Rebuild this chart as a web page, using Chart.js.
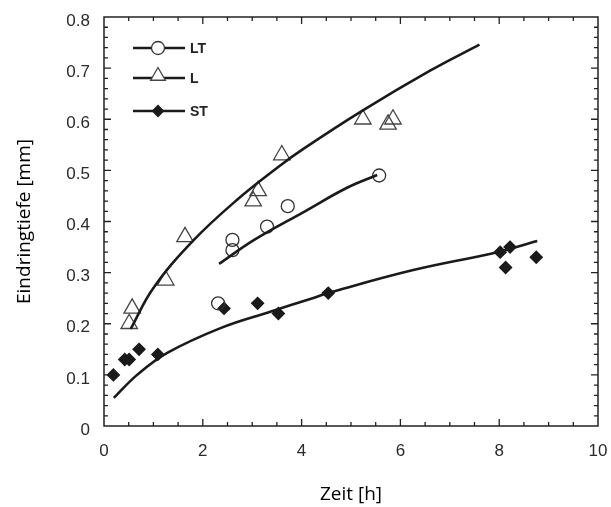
<!DOCTYPE html>
<html>
<head>
<meta charset="utf-8">
<script src="https://cdn.jsdelivr.net/npm/chart.js@4.4.1/dist/chart.umd.min.js"></script>
<style>
  html, body { margin: 0; padding: 0; background: #fff; }
  #wrap { width: 611px; height: 507px; }
</style>
</head>
<body>
<div id="wrap"><canvas id="chart"></canvas></div>
<script>
// Messwerte: Zeit [h] / Eindringtiefe [mm]
const ltZeit = [2.31, 2.60, 2.60, 3.30, 3.72, 5.57];
const ltTiefe = [0.240, 0.364, 0.344, 0.390, 0.430, 0.490];

const lZeit = [0.51, 0.57, 1.25, 1.64, 3.02, 3.12, 3.60, 5.24, 5.75, 5.85];
const lTiefe = [0.200, 0.230, 0.285, 0.370, 0.440, 0.460, 0.530, 0.600, 0.590, 0.600];

const stZeit = [0.19, 0.42, 0.51, 0.71, 1.09, 2.43, 3.11, 3.53, 4.54, 8.02, 8.13, 8.22, 8.75];
const stTiefe = [0.100, 0.130, 0.130, 0.150, 0.140, 0.230, 0.240, 0.220, 0.260, 0.340, 0.310, 0.350, 0.330];

// Ausgleichskurven
const lFitZeit = [0.54, 1.00, 1.80, 2.70, 3.56, 4.05, 5.20, 6.60, 7.60];
const lFitTiefe = [0.190, 0.270, 0.362, 0.443, 0.509, 0.543, 0.615, 0.695, 0.746];

const ltFitZeit = [2.33, 3.04, 4.05, 4.92, 5.53];
const ltFitTiefe = [0.317, 0.364, 0.419, 0.466, 0.491];

const stFitZeit = [0.20, 0.67, 1.28, 2.37, 3.38, 4.19, 4.57, 6.26, 7.96, 8.77];
const stFitTiefe = [0.055, 0.100, 0.143, 0.192, 0.224, 0.249, 0.261, 0.305, 0.340, 0.362];

const legendLabels = ['LT', 'L', 'ST'];

const INK = '#1a1a1a';

function toPoints(xs, ys) {
    return xs.map((x, i) => ({ x: x, y: ys[i] }));
}

const markerStyles = [
    { pointStyle: 'circle', radius: 6.5, fill: 'rgba(0,0,0,0)', stroke: '#333', legendRadius: 6.5 },
    { pointStyle: 'triangle', radius: 9.5, fill: 'rgba(0,0,0,0)', stroke: '#444', legendRadius: 8.5 },
    { pointStyle: 'rectRot', radius: 6, fill: INK, stroke: INK, legendRadius: 5.5 }
];

function scatterSet(xs, ys, style) {
    return {
        type: 'scatter',
        data: toPoints(xs, ys),
        pointStyle: style.pointStyle,
        pointRadius: style.radius,
        pointBackgroundColor: style.fill,
        pointBorderColor: style.stroke,
        pointBorderWidth: 1.3,
        showLine: false
    };
}

function fitSet(xs, ys) {
    return {
        type: 'line',
        data: toPoints(xs, ys),
        borderColor: INK,
        borderWidth: 2.6,
        pointRadius: 0,
        tension: 0.4,
        fill: false
    };
}

// Rahmen, nach innen zeigende Ticks und Legende oben links
const framePlugin = {
    id: 'frame',
    afterDraw(chart) {
        const { ctx, chartArea: a, scales } = chart;
        const xs = scales.x, ys = scales.y;
        ctx.save();
        ctx.strokeStyle = '#222';
        ctx.lineWidth = 1.5;
        ctx.strokeRect(a.left, a.top, a.right - a.left, a.bottom - a.top);

        ctx.lineWidth = 1.3;
        ctx.beginPath();
        for (let i = 1; i < 20; i++) {
            const px = xs.getPixelForValue(i * 0.5);
            const len = i % 4 === 0 ? 7 : 4;
            ctx.moveTo(px, a.bottom); ctx.lineTo(px, a.bottom - len);
            ctx.moveTo(px, a.top); ctx.lineTo(px, a.top + len);
        }
        for (let i = 1; i < 40; i++) {
            const py = ys.getPixelForValue(i * 0.02);
            const len = i % 5 === 0 ? 7 : 4;
            ctx.moveTo(a.left, py); ctx.lineTo(a.left + len, py);
            ctx.moveTo(a.right, py); ctx.lineTo(a.right - len, py);
        }
        ctx.stroke();

        // Legende
        const x0 = a.left + 29, x1 = a.left + 81, mx = a.left + 54;
        const rows = [a.top + 31, a.top + 61, a.top + 94];
        ctx.font = 'bold 14px "Liberation Sans", Arial, sans-serif';
        ctx.textBaseline = 'middle';
        ctx.textAlign = 'left';
        legendLabels.forEach((label, i) => {
            const st = markerStyles[i];
            const y = rows[i];
            ctx.strokeStyle = INK;
            ctx.lineWidth = 2.6;
            ctx.beginPath();
            ctx.moveTo(x0, y); ctx.lineTo(x1, y);
            ctx.stroke();
            ctx.fillStyle = st.pointStyle === 'rectRot' ? INK : '#fff';
            ctx.strokeStyle = st.stroke;
            ctx.lineWidth = 1.3;
            Chart.helpers.drawPoint(ctx, {
                pointStyle: st.pointStyle,
                radius: st.legendRadius,
                rotation: 0,
                borderWidth: 1.3
            }, mx, st.pointStyle === 'triangle' ? y - 2 : y);
            ctx.fillStyle = '#222';
            ctx.fillText(label, x1 + 5, y + 1);
        });
        ctx.restore();
    }
};

const tickFont = { family: '"Liberation Sans", Arial, sans-serif', size: 17 };
const titleFont = { family: '"Open Sans", sans-serif', size: 19 };

new Chart(document.getElementById('chart'), {
    data: {
        datasets: [
            fitSet(lFitZeit, lFitTiefe),
            fitSet(ltFitZeit, ltFitTiefe),
            fitSet(stFitZeit, stFitTiefe),
            scatterSet(ltZeit, ltTiefe, markerStyles[0]),
            scatterSet(lZeit, lTiefe, markerStyles[1]),
            scatterSet(stZeit, stTiefe, markerStyles[2])
        ]
    },
    options: {
        responsive: true,
        maintainAspectRatio: false,
        animation: false,
        layout: { padding: { top: 17, right: 13, left: 0, bottom: 0 } },
        plugins: { legend: { display: false }, tooltip: { enabled: false } },
        scales: {
            x: {
                type: 'linear',
                min: 0, max: 10,
                grid: { display: false, drawTicks: false },
                border: { display: false },
                ticks: { stepSize: 2, padding: 15, color: '#2a2a2a', font: tickFont, maxRotation: 0 },
                title: { display: true, text: 'Zeit [h]', color: '#000', font: titleFont, padding: { top: 0, bottom: 1 } },
                afterFit(scale) {
                    scale.height = 81;
                    // label overhang is covered by the layout padding
                    scale.paddingLeft = 0;
                    scale.paddingRight = 0;
                }
            },
            y: {
                type: 'linear',
                min: 0, max: 0.8,
                grid: { display: false, drawTicks: false },
                border: { display: false },
                ticks: {
                    stepSize: 0.1, padding: 14, color: '#2a2a2a', font: tickFont, labelOffset: 4,
                    callback: v => v === 0 ? '0' : v.toFixed(1)
                },
                title: { display: true, text: 'Eindringtiefe [mm]', color: '#000', font: titleFont, padding: { top: 13, bottom: 0 } },
                afterFit(scale) {
                    scale.width = 104;
                    scale.paddingTop = 0;
                    scale.paddingBottom = 0;
                }
            }
        }
    },
    plugins: [framePlugin]
});
</script>
</body>
</html>
